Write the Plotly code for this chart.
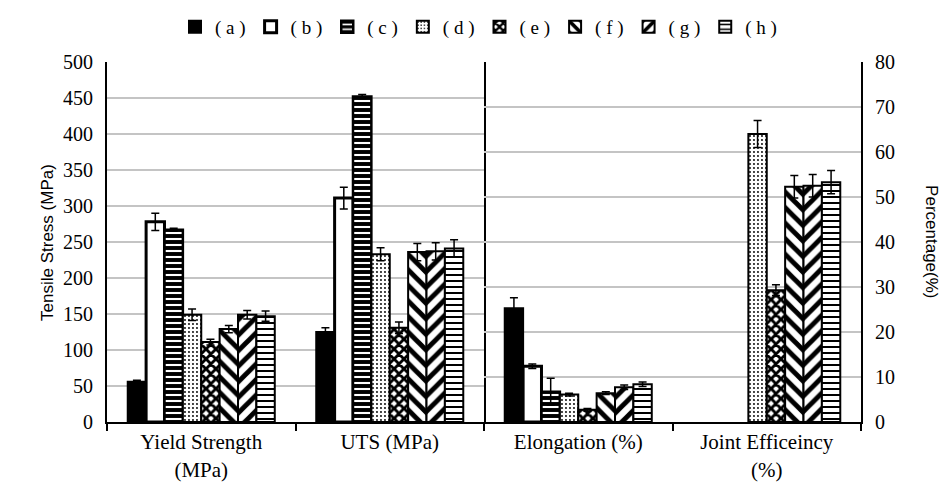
import plotly.graph_objects as go

series = ["( a )", "( b )", "( c )", "( d )", "( e )", "( f )", "( g )", "( h )"]
groups_mpa = ["Yield Strength<br>(MPa)", "UTS (MPa)"]
groups_pct = ["Elongation (%)", "Joint Efficeincy<br>(%)"]

# Tensile stress (MPa): [Yield Strength, UTS]
mpa_a = [56, 125]
mpa_b = [278, 311]
mpa_c = [267, 452]
mpa_d = [149, 233]
mpa_e = [111, 131]
mpa_f = [129, 236]
mpa_g = [149, 237]
mpa_h = [147, 241]
mpa_err_a = [2, 6]
mpa_err_b = [12, 15]
mpa_err_c = [2, 3]
mpa_err_d = [8, 9]
mpa_err_e = [4, 8]
mpa_err_f = [5, 12]
mpa_err_g = [6, 12]
mpa_err_h = [7, 12]

# Percentage: [Elongation, Joint Efficiency]
pct_a = [25.3, None]
pct_b = [12.4, None]
pct_c = [6.7, None]
pct_d = [6.1, 64.0]
pct_e = [2.7, 29.3]
pct_f = [6.4, 52.3]
pct_g = [7.7, 52.5]
pct_h = [8.4, 53.3]
pct_err_a = [2.3, 0]
pct_err_b = [0.5, 0]
pct_err_c = [3.0, 0]
pct_err_d = [0.3, 3.0]
pct_err_e = [0.3, 1.2]
pct_err_f = [0.3, 2.5]
pct_err_g = [0.5, 2.5]
pct_err_h = [0.5, 2.6]

mpa_vals = [mpa_a, mpa_b, mpa_c, mpa_d, mpa_e, mpa_f, mpa_g, mpa_h]
mpa_errs = [mpa_err_a, mpa_err_b, mpa_err_c, mpa_err_d, mpa_err_e, mpa_err_f, mpa_err_g, mpa_err_h]
pct_vals = [pct_a, pct_b, pct_c, pct_d, pct_e, pct_f, pct_g, pct_h]
pct_errs = [pct_err_a, pct_err_b, pct_err_c, pct_err_d, pct_err_e, pct_err_f, pct_err_g, pct_err_h]

# styles per series
styles = [
    dict(color="black", pattern=dict(shape=""), lw=2),
    dict(color="white", pattern=dict(shape=""), lw=3),
    dict(color="black", pattern=dict(shape="-", fgcolor="white", bgcolor="black", size=6, solidity=0.35, fillmode="replace"), lw=2.5),
    dict(color="white", pattern=dict(shape=".", fgcolor="black", bgcolor="white", size=4, solidity=0.18, fillmode="replace"), lw=2),
    dict(color="white", pattern=dict(shape="x", fgcolor="black", bgcolor="white", size=7, solidity=0.65, fillmode="replace"), lw=2),
    dict(color="white", pattern=dict(shape="\\", fgcolor="black", bgcolor="white", size=11, solidity=0.45, fillmode="replace"), lw=2),
    dict(color="white", pattern=dict(shape="/", fgcolor="black", bgcolor="white", size=11, solidity=0.45, fillmode="replace"), lw=2),
    dict(color="white", pattern=dict(shape="-", fgcolor="black", bgcolor="white", size=6, solidity=0.33, fillmode="replace"), lw=2),
]

fig = go.Figure()
for i, name in enumerate(series):
    st = styles[i]
    marker = dict(color=st["color"], pattern=st["pattern"], line=dict(color="black", width=st["lw"]))
    fig.add_trace(go.Bar(
        x=groups_mpa, y=mpa_vals[i], name=name, legendgroup=name, showlegend=True,
        marker=marker, xaxis="x", yaxis="y",
        error_y=dict(type="data", array=mpa_errs[i], color="black", thickness=1.5, width=4),
    ))
    fig.add_trace(go.Bar(
        x=groups_pct, y=pct_vals[i], name=name, legendgroup=name, showlegend=False,
        marker=marker, xaxis="x2", yaxis="y2",
        error_y=dict(type="data", array=pct_errs[i], color="black", thickness=1.5, width=4),
    ))

serif = "Liberation Serif, Times New Roman, serif"
sans = "Liberation Sans, Arial, sans-serif"
ytickfont = dict(family=serif, size=20, color="black")
xtickfont = dict(family=serif, size=21, color="black")
fig.update_layout(
    width=941, height=484,
    margin=dict(l=99, r=88, t=54, b=70),
    plot_bgcolor="white", paper_bgcolor="white",
    barmode="group", bargap=0.22, bargroupgap=0,
    font=dict(family=serif, color="black"),
    legend=dict(orientation="h", x=0.5, xanchor="center", xref="container",
                y=1.0, yanchor="top", yref="container",
                font=dict(family=serif, size=19, color="black"),
                itemwidth=30, tracegroupgap=0, bgcolor="rgba(0,0,0,0)"),
    xaxis=dict(domain=[0, 0.5], anchor="y", type="category", tickson="boundaries",
               ticks="outside", ticklen=7, tickwidth=2, tickcolor="black",
               showline=True, linecolor="black", linewidth=2, showgrid=False,
               tickfont=xtickfont, automargin=False),
    xaxis2=dict(domain=[0.5, 1], anchor="y2", type="category", tickson="boundaries",
                ticks="outside", ticklen=7, tickwidth=2, tickcolor="black",
                showline=True, linecolor="black", linewidth=2, showgrid=False,
                tickfont=xtickfont, automargin=False),
    yaxis=dict(range=[0, 500], dtick=50, anchor="x", side="left",
               showline=True, linecolor="black", linewidth=2, mirror=True,
               showgrid=True, gridcolor="#c4c4c4", gridwidth=2, zeroline=False,
               ticks="", tickfont=ytickfont, ticklabelstandoff=8, automargin=False),
    yaxis2=dict(range=[0, 80], dtick=10, anchor="x2", side="right",
                showline=True, linecolor="black", linewidth=2,
                showgrid=True, gridcolor="#c4c4c4", gridwidth=2, zeroline=False,
                ticks="", tickfont=ytickfont, ticklabelstandoff=8, automargin=False),
    annotations=[
        dict(text="Tensile Stress (MPa)", textangle=-90, xref="paper", yref="paper",
             x=-0.0796, y=0.5, xanchor="center", yanchor="middle", showarrow=False,
             font=dict(family=sans, size=17, color="black")),
        dict(text="Percentage(%)", textangle=90, xref="paper", yref="paper",
             x=1.094, y=0.5, xanchor="center", yanchor="middle", showarrow=False,
             font=dict(family=sans, size=17, color="black")),
    ],
)

fig.write_html("out.html")
